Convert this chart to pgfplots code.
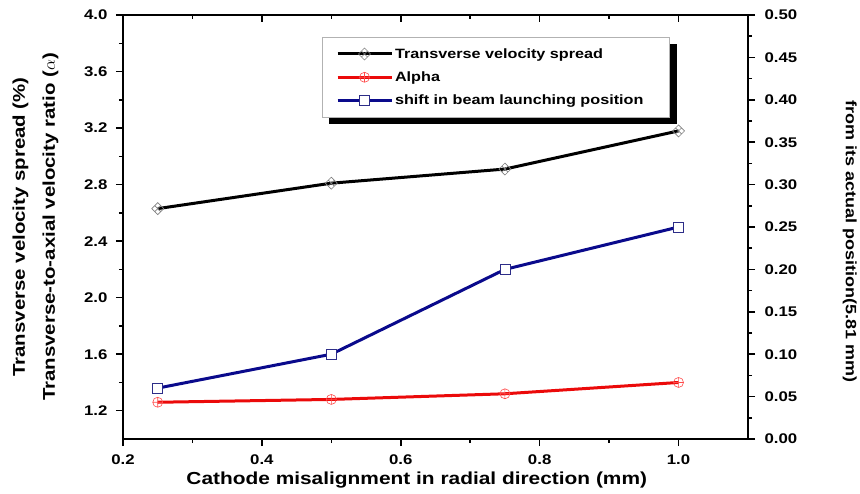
\documentclass[border=0pt]{standalone}
\usepackage{fontspec}
\setmainfont{Liberation Sans}[FakeStretch=1.2]
\usepackage{pgfplots}
\pgfplotsset{compat=1.18}
\usetikzlibrary{backgrounds}

% diamond with a cross inside, like the Origin marker
\pgfdeclareplotmark{hatchdiamond}{%
  \pgfpathmoveto{\pgfqpoint{0pt}{\pgfplotmarksize}}%
  \pgfpathlineto{\pgfqpoint{\pgfplotmarksize}{0pt}}%
  \pgfpathlineto{\pgfqpoint{0pt}{-\pgfplotmarksize}}%
  \pgfpathlineto{\pgfqpoint{-\pgfplotmarksize}{0pt}}%
  \pgfpathclose
  \pgfpathmoveto{\pgfqpoint{-0.5\pgfplotmarksize}{0.5\pgfplotmarksize}}%
  \pgfpathlineto{\pgfqpoint{0.5\pgfplotmarksize}{-0.5\pgfplotmarksize}}%
  \pgfpathmoveto{\pgfqpoint{0.5\pgfplotmarksize}{0.5\pgfplotmarksize}}%
  \pgfpathlineto{\pgfqpoint{-0.5\pgfplotmarksize}{-0.5\pgfplotmarksize}}%
  \pgfusepathqstroke
}

\definecolor{navyline}{RGB}{10,10,140}
\definecolor{redline}{RGB}{235,10,10}

\pgfplotsset{
  base/.style={
    width=625pt, height=424pt, scale only axis,
    xmin=0.2, xmax=1.1,
    axis line style={line width=2pt},
    tick style={line width=1.5pt, black},
    major tick length=7pt, minor tick length=4pt,
    /pgf/number format/assume math mode=true,
    tick label style={font=\fontsize{14}{16}\selectfont\bfseries},
  },
}

\begin{document}
\begin{tikzpicture}
\begin{axis}[base, name=ax,
  ymin=1.0, ymax=4.0,
  xtick={0.2,0.4,0.6,0.8,1.0}, minor x tick num=1,
  ytick={1.2,1.6,2.0,2.4,2.8,3.2,3.6,4.0}, minor y tick num=1,
  xtick pos=bottom, ytick pos=left, tick align=outside,
  x tick label style={yshift=-5pt, /pgf/number format/.cd, fixed, fixed zerofill, precision=1},
  y tick label style={xshift=-5pt, /pgf/number format/.cd, fixed, fixed zerofill, precision=1},
  xlabel={Cathode misalignment in radial direction (mm)},
  xlabel style={font=\fontsize{17.4}{19}\selectfont\bfseries, at={(rel axis cs:0.47,-0.097)}, anchor=center},
  ylabel={Transverse velocity spread (\%)\\Transverse-to-axial velocity ratio ($\alpha$)},
  ylabel style={font=\fontsize{17}{30}\selectfont\bfseries, align=center, at={(rel axis cs:-0.140,0.5)}, anchor=center, rotate=0},
]
\addplot[black, line width=3pt, mark=hatchdiamond, mark size=6pt,
  mark options={solid, line width=0.6pt, draw=gray, fill=white}]
  coordinates {(0.25,2.63) (0.50,2.81) (0.75,2.91) (1.00,3.18)};
\addplot[redline, line width=3pt, mark=oplus, mark size=5pt,
  mark options={solid, line width=0.6pt, draw=red!70, fill=white}]
  coordinates {(0.25,1.26) (0.50,1.28) (0.75,1.32) (1.00,1.40)};
\end{axis}

\begin{axis}[base,
  ymin=0, ymax=0.5,
  axis x line=none, axis y line*=right,
  ytick={0,0.05,0.10,0.15,0.20,0.25,0.30,0.35,0.40,0.45,0.50}, minor y tick num=1,
  ytick pos=right, tick align=outside,
  y tick label style={xshift=6pt, /pgf/number format/.cd, fixed, fixed zerofill, precision=2},
  clip=false,
  legend cell align=left,
  legend image code/.code={\draw[mark repeat=2, mark phase=2] plot coordinates {(0pt,0pt) (27pt,0pt) (54pt,0pt)};},
  legend style={name=leg, at={(rel axis cs:0.318,0.948)}, anchor=north west,
    draw=gray!60, fill=white, line width=0.6pt,
    font=\fontsize{13.5}{15}\selectfont\bfseries, row sep=8pt,
    inner xsep=14pt, inner ysep=9pt},
]
\addlegendimage{black, line width=3pt, mark=hatchdiamond, mark size=6pt,
  mark options={solid, line width=0.6pt, draw=gray, fill=white}}
\addlegendentry{Transverse velocity spread}
\addlegendimage{redline, line width=3pt, mark=oplus, mark size=5pt,
  mark options={solid, line width=0.6pt, draw=red!70, fill=white}}
\addlegendentry{Alpha}
\addplot[navyline, line width=3pt, mark=square*, mark size=5pt,
  mark options={solid, line width=0.6pt, draw=navyline!70!gray, fill=white}]
  coordinates {(0.25,0.06) (0.50,0.10) (0.75,0.20) (1.00,0.25)};
\addlegendentry{shift in beam launching position\rule{10pt}{0pt}}
\node[rotate=-90, anchor=center, font=\fontsize{15}{17}\selectfont\bfseries]
  at (rel axis cs:1.163,0.465) {from its actual position(5.81 mm)};
\end{axis}

\begin{axis}[base,
  ymin=0, ymax=1,
  axis y line=none, axis x line*=top,
  xtick={0.2,0.4,0.6,0.8,1.0}, minor x tick num=1,
  xticklabels={}, tick align=inside,
]
\end{axis}

% black offset shadow of the legend box
\begin{pgfonlayer}{background}
\fill[black] ([xshift=7pt,yshift=-7pt]leg.south west) rectangle ([xshift=7pt,yshift=-7pt]leg.north east);
\end{pgfonlayer}

\pgfresetboundingbox
\path (ax.south west) ++(-123pt,-54pt) rectangle ++(860pt,493pt);
\end{tikzpicture}
\end{document}
